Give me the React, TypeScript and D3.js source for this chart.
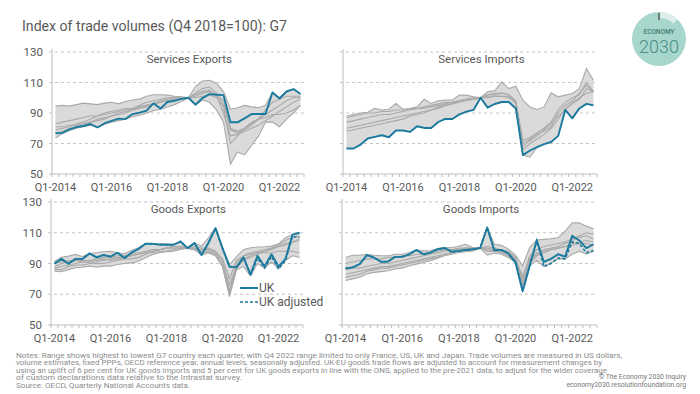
import React from "react";
import * as d3 from "d3";

// quarters Q1-2014 .. Q4-2022
const years = [2014, 2015, 2016, 2017, 2018, 2019, 2020, 2021, 2022];
const quarters = years.flatMap((y) => ["Q1", "Q2", "Q3", "Q4"].map((q) => `${q}-${y}`));
const tickQuarters = ["Q1-2014", "Q1-2016", "Q1-2018", "Q1-2020", "Q1-2022"];
const yTicks = [50, 70, 90, 110, 130];

// Services exports
const servExpUK = [76.7, 77.0, 79.3, 80.8, 81.5, 82.8, 80.5, 83.3, 84.8, 86.3, 86.0, 89.3, 90.2, 91.5, 96.3, 93.0, 97.2, 98.0, 99.3, 100, 95.4, 99.8, 102.4, 102.0, 101.7, 83.9, 83.9, 86.5, 89.3, 89.3, 89.3, 103.5, 99.5, 104.1, 105.7, 102.4];
const servExpHigh = [94.5, 95, 94.5, 95.5, 96.5, 96, 95.5, 96.5, 97, 96, 97.5, 98.5, 99.1, 101, 102, 102, 101.7, 101, 100.6, 100, 107.5, 111, 111.5, 109.5, 104, 92.5, 93.5, 95, 94, 93.5, 95, 103.5, 100, 104.1, 105.7, 102.4];
const servExpLow = [73.5, 76.5, 78.5, 80, 81, 82, 80.5, 82.5, 84, 85, 86, 87.5, 88.5, 90, 91.5, 92.5, 94, 95.5, 97.5, 100, 95.4, 98.5, 97, 92, 84, 56.5, 64.5, 62.5, 68.5, 75, 84, 84, 81, 86, 90, 95];
const servExpA = [83, 84, 85, 86, 87, 88, 88, 89, 90, 91, 92, 93, 95, 97, 98, 99, 100, 100, 100, 100, 103, 106, 107, 103, 95, 79, 77, 79, 82, 86, 92, 97, 99, 101, 101, 101];
const servExpB = [81, 81, 82, 82, 83, 84, 86, 87, 88, 89, 90, 92, 94, 95, 96, 97, 98, 99, 99, 100, 101, 103, 104, 102, 98, 80, 78, 80, 83, 86, 89, 92, 95, 98, 100, 100];
const servExpC = [79, 80, 81, 83, 84, 86, 88, 90, 91, 92, 93, 93, 94, 95, 96, 97, 98, 99, 100, 100, 100, 101, 102, 100, 94, 70, 75, 80, 84, 86, 87, 89, 89, 90, 92, 95];
const servExpD = [77, 78, 80, 81, 82, 84, 85, 86, 88, 90, 91, 92, 93, 94, 96, 98, 99, 100, 100, 100, 102, 104, 105, 101, 90, 75, 76, 78, 80, 82, 85, 88, 91, 94, 97, 99];

// Services imports
const servImpUK = [66.7, 66.7, 69.3, 73.3, 74.3, 75.4, 74.1, 78.5, 78.5, 77.6, 81.3, 80.2, 80.2, 84.1, 86.1, 86.1, 89.1, 90.9, 92.0, 100, 93.5, 95.9, 97.2, 97.2, 93, 62.4, 65.4, 67.6, 69.6, 71, 75, 92, 86.5, 93, 96, 95];
const servImpHigh = [88, 89, 90, 90.5, 93, 92, 92.5, 96.3, 92.5, 93, 94, 99, 96.3, 98, 98.5, 98.5, 101.7, 101.7, 100.6, 100, 104, 104.5, 110.4, 106, 107.6, 98.4, 94, 92.3, 94, 103.2, 100.6, 101.7, 102.8, 106, 119.2, 111.5];
const servImpLow = [66.7, 66.7, 69.3, 73.3, 74.3, 75.4, 74.1, 78.5, 78.5, 77.6, 81.3, 80.2, 80.2, 84.1, 86.1, 86.1, 89.1, 90.9, 92.0, 100, 93.5, 95.9, 97.2, 97.2, 93, 62.4, 61, 67.6, 69.6, 71, 75, 92, 86.5, 93, 96, 95];
const servImpA = [87, 88, 89, 90, 90, 91, 91, 92, 92, 93, 93, 94, 95, 96, 97, 97, 98, 99, 99, 100, 102, 102, 103, 102, 97, 72, 74, 77, 80, 84, 92, 97, 100, 102, 110, 104];
const servImpB = [84, 85, 86, 87, 88, 89, 89, 90, 91, 92, 93, 93, 94, 95, 96, 97, 98, 99, 99, 100, 101, 101, 101, 101, 96, 66, 70, 73, 76, 80, 86, 93, 97, 100, 103, 104];
const servImpC = [80, 81, 82, 83, 84, 85, 86, 87, 88, 89, 90, 91, 92, 94, 95, 96, 97, 98, 99, 100, 100, 101, 101, 100, 97, 68, 72, 75, 79, 83, 88, 92, 96, 99, 106, 104];
const servImpD = [78, 79, 80, 81, 82, 83, 84, 85, 86, 88, 89, 90, 92, 93, 95, 96, 98, 99, 100, 100, 102, 103, 103, 102, 98, 70, 73, 76, 78, 81, 90, 95, 98, 103, 108, 104];

// Goods exports
const goodsExpUK = [90, 93, 89.8, 93, 93, 96.5, 94, 95.5, 94.5, 97, 93.5, 97, 99.5, 102.8, 102.8, 102.3, 102.2, 102.2, 104.3, 100, 103.3, 95.5, 103.5, 113, 100, 88, 87.5, 94, 83, 95, 88, 96, 88, 93, 108.8, 110];
const goodsExpAdj = [90, 93, 89.8, 93, 93, 96.5, 94, 95.5, 94.5, 97, 93.5, 97, 99.5, 102.8, 102.8, 102.3, 102.2, 102.2, 104.3, 100, 103.3, 95.5, 103.5, 113, 100, 88, 87.5, 94, 82, 93.5, 87, 94.5, 86.5, 92, 107.5, 107];
const goodsExpHigh = [91.5, 94, 94.8, 95.9, 94.5, 96.5, 97, 97.6, 98, 97, 96.3, 98.5, 100.2, 102.8, 102.8, 102.8, 102.8, 102.4, 104.3, 100, 103.3, 101.3, 106.7, 113, 100, 89.3, 94.5, 99, 100.2, 100.7, 100.9, 101.3, 102.8, 106.7, 108.8, 110];
const goodsExpLow = [85, 84.6, 86, 87.2, 87.6, 88.3, 87.6, 88.3, 88.3, 89.3, 90, 90.4, 91.5, 93.7, 95.9, 97, 97.6, 98, 99.1, 100, 99, 95.5, 97, 95, 88, 68.5, 86, 88, 82, 90, 87, 91, 86.5, 92, 95, 94];
const goodsExpA = [88, 90, 91, 92, 92, 92, 93, 94, 94, 95, 95, 96, 97, 98, 99, 99, 100, 101, 101, 100, 100, 99, 99, 97, 92, 72, 90, 95, 97, 98, 99, 100, 101, 103, 104, 106];
const goodsExpB = [87, 88, 89, 90, 91, 91, 91, 92, 93, 94, 94, 95, 96, 97, 98, 99, 100, 100, 100, 100, 99, 98, 98, 96, 90, 76, 88, 93, 95, 97, 98, 99, 101, 102, 104, 105];
const goodsExpC = [86, 86, 88, 89, 89, 90, 90, 90, 91, 92, 93, 93, 94, 96, 98, 99, 100, 101, 101, 100, 101, 100, 100, 98, 93, 80, 92, 95, 96, 97, 97, 97, 98, 98, 98, 97];
const goodsExpD = [90, 91, 92, 92, 91, 91, 92, 93, 92, 93, 94, 95, 96, 97, 97, 98, 98, 99, 100, 100, 99, 98, 97, 95, 88, 70, 87, 92, 94, 96, 98, 100, 102, 105, 107, 108];

// Goods imports
const goodsImpUK = [86.8, 87.5, 89.6, 95.4, 93.9, 91.1, 91.3, 94.3, 94.3, 96, 98.8, 96, 97.1, 99.3, 100.1, 97.6, 98.2, 98.8, 99.3, 100, 113.4, 98.6, 98.8, 96.5, 90.7, 72, 88.5, 105, 91, 93, 96, 94.5, 108, 105, 100, 102.5];
const goodsImpAdj = [86.8, 87.5, 89.6, 95.4, 93.9, 91.1, 91.3, 94.3, 94.3, 96, 98.8, 96, 97.1, 99.3, 100.1, 97.6, 98.2, 98.8, 99.3, 100, 113.4, 98.6, 98.8, 96.5, 90.7, 72, 88.5, 105, 88, 90, 93.5, 93, 104, 103, 97, 98.5];
const goodsImpHigh = [93.9, 95.4, 95.4, 96, 95.4, 95, 95, 96, 96, 97.1, 98.8, 98.2, 98.2, 99.7, 100.3, 100.3, 101.4, 102.5, 100.3, 100, 113.4, 102.5, 101.8, 99.3, 95.4, 88.5, 100.3, 105.3, 105.7, 106.1, 106.8, 111, 116.4, 116.4, 114.3, 112.6];
const goodsImpLow = [78.9, 80, 81, 83.2, 84.2, 84.7, 85.3, 86.4, 87, 88.5, 89.6, 90.7, 91.8, 93.5, 95, 96, 97.1, 97.6, 98.2, 100, 95.4, 96.7, 96, 93.9, 90.7, 72, 88.5, 92, 88, 90, 93, 93, 96, 98, 96, 98];
const goodsImpA = [90, 91, 92, 93, 93, 93, 94, 94, 95, 95, 96, 96, 97, 98, 99, 99, 100, 100, 100, 100, 101, 100, 99, 98, 94, 80, 95, 99, 101, 102, 103, 104, 106, 108, 110, 109];
const goodsImpB = [86, 87, 87, 88, 89, 90, 90, 91, 92, 93, 94, 95, 96, 97, 98, 99, 99, 100, 100, 100, 100, 99, 99, 97, 93, 78, 92, 96, 98, 99, 100, 101, 103, 104, 105, 104];
const goodsImpC = [83, 84, 85, 86, 87, 88, 88, 89, 90, 91, 92, 93, 94, 95, 96, 97, 98, 99, 100, 100, 99, 98, 98, 96, 92, 82, 93, 97, 99, 100, 101, 103, 105, 107, 108, 106];
const goodsImpD = [81, 82, 83, 85, 86, 87, 87, 88, 89, 90, 91, 92, 93, 94, 96, 97, 98, 99, 99, 100, 98, 98, 97, 95, 91, 76, 90, 95, 97, 99, 100, 101, 102, 103, 103, 102];

const notes = [
  "Notes: Range shows highest to lowest G7 country each quarter, with Q4 2022 range limited to only France, US, UK and Japan. Trade volumes are measured in US dollars,",
  "volume estimates, fixed PPPs, OECD reference year, annual levels, seasonally adjusted. UK-EU goods trade flows are adjusted to account for measurement changes by",
  "using an uplift of 6 per cent for UK goods imports and 5 per cent for UK goods exports in line with the ONS, applied to the pre-2021 data, to adjust for the wider coverage",
  "of custom declarations data relative to the Intrastat survey.",
  "Source: OECD, Quarterly National Accounts data.",
];
const noteWidths = [606, 586, 591, 226, 174];

const BLUE = "#1a7b9e";
const GRAY_LINE = "#a9a9a9";
const FILL = "#dadada";
const TEXT = "#595959";
const FONT = "Roboto, 'Noto Sans', sans-serif";

type PanelProps = {
  title: string;
  uk: number[];
  adj?: number[];
  high: number[];
  low: number[];
  others: number[][];
  x0: number;
  x1: number;
  yTop: number;
  yBot: number;
  showY: boolean;
  legend?: boolean;
};

const Panel = (p: PanelProps) => {
  const x = d3.scaleBand<string>().domain(quarters).range([p.x0, p.x1]);
  const y = d3.scaleLinear().domain([50, 130]).range([p.yBot, p.yTop]);
  const cx = (i: number) => (x(quarters[i]) as number) + x.bandwidth() / 2;
  const line = d3.line<number>().x((_, i) => cx(i)).y((d) => y(d));
  const area = d3
    .area<number>()
    .x((_, i) => cx(i))
    .y0((_, i) => y(p.low[i]))
    .y1((d) => y(d));
  const boundaries = [...quarters.map((q) => x(q) as number), p.x1];

  return (
    <g>
      {yTicks.slice(1).map((t) => (
        <line key={t} x1={p.x0 - 3} x2={p.x1} y1={y(t)} y2={y(t)} stroke="#bdbdbd" strokeDasharray="3,3" strokeWidth={0.9} />
      ))}
      <line x1={p.x0} x2={p.x0} y1={p.yTop - 3} y2={p.yBot} stroke="#bdbdbd" />
      <line x1={p.x0 - 3} x2={p.x1} y1={p.yBot} y2={p.yBot} stroke="#bdbdbd" />
      {boundaries.map((b, i) => (
        <line key={i} x1={b} x2={b} y1={p.yBot} y2={p.yBot + 3} stroke="#bdbdbd" />
      ))}
      {p.showY &&
        yTicks.map((t) => (
          <text key={t} x={p.x0 - 9} y={y(t)} dy="0.35em" textAnchor="end" fontSize={11.5} fill={TEXT} fontFamily={FONT}>
            {t}
          </text>
        ))}
      {tickQuarters.map((q) => (
        <text key={q} x={cx(quarters.indexOf(q))} y={p.yBot + 17} textAnchor="middle" fontSize={11} fill={TEXT} fontFamily={FONT}>
          {q}
        </text>
      ))}
      <text x={p.x0 + 0.545 * (p.x1 - p.x0)} y={p.yTop + 10.5} textAnchor="middle" fontSize={11.5} fill={TEXT} fontFamily={FONT}>
        {p.title}
      </text>
      <path d={area(p.high) || ""} fill={FILL} />
      {p.others.map((o, k) => (
        <path key={k} d={line(o) || ""} fill="none" stroke={GRAY_LINE} strokeWidth={1.1} />
      ))}
      <path d={line(p.high) || ""} fill="none" stroke={GRAY_LINE} strokeWidth={1.1} />
      <path d={line(p.low) || ""} fill="none" stroke={GRAY_LINE} strokeWidth={1.1} />
      {p.adj && <path d={line(p.adj) || ""} fill="none" stroke={BLUE} strokeWidth={1.6} strokeDasharray="3,2" />}
      <path d={line(p.uk) || ""} fill="none" stroke={BLUE} strokeWidth={1.9} strokeLinejoin="round" />
      {p.legend && (
        <g fontFamily={FONT} fontSize={12} fill={TEXT}>
          <line x1={240} x2={258} y1={288} y2={288} stroke={BLUE} strokeWidth={2} />
          <text x={259} y={292}>UK</text>
          <line x1={240} x2={258} y1={302} y2={302} stroke={BLUE} strokeWidth={1.6} strokeDasharray="3,2" />
          <text x={259} y={306}>UK adjusted</text>
        </g>
      )}
    </g>
  );
};

const Logo = () => {
  const cx = 659;
  const cy = 39;
  const r = 27;
  const arc = d3.arc()({ innerRadius: r - 6, outerRadius: r, startAngle: 0.05, endAngle: 0.75 }) || "";
  return (
    <g>
      <circle cx={cx} cy={cy} r={r} fill="#a6d6cc" />
      <path d={arc} transform={`translate(${cx},${cy})`} fill="#dcefeb" />
      <line x1={cx} x2={cx} y1={cy - r + 1} y2={cy - r + 8} stroke="#555" strokeWidth={1.4} />
      <text x={cx} y={34} textAnchor="middle" fontSize={6.5} fill="#3f7d73" fontFamily={FONT} fontWeight={500}>
        ECONOMY
      </text>
      <text x={cx} y={53} textAnchor="middle" fontSize={18} fill="#4a8d83" fontFamily={FONT} fontWeight={300}>
        2030
      </text>
    </g>
  );
};

export default function App() {
  return (
    <svg width={700} height={394} style={{ position: "absolute", left: 0, top: 0, background: "#fff" }}>
      <text x={22} y={31} fontSize={14.5} fill={TEXT} fontFamily={FONT} textLength={265} lengthAdjust="spacingAndGlyphs">
        Index of trade volumes (Q4 2018=100): G7
      </text>
      <Logo />
      <Panel title="Services Exports" uk={servExpUK} high={servExpHigh} low={servExpLow} others={[servExpA, servExpB, servExpC, servExpD]} x0={52} x1={304} yTop={52} yBot={174} showY />
      <Panel title="Services Imports" uk={servImpUK} high={servImpHigh} low={servImpLow} others={[servImpA, servImpB, servImpC, servImpD]} x0={343} x1={597} yTop={52} yBot={174} showY={false} />
      <Panel title="Goods Exports" uk={goodsExpUK} adj={goodsExpAdj} high={goodsExpHigh} low={goodsExpLow} others={[goodsExpA, goodsExpB, goodsExpC, goodsExpD]} x0={51} x1={303} yTop={202} yBot={325} showY legend />
      <Panel title="Goods Imports" uk={goodsImpUK} adj={goodsImpAdj} high={goodsImpHigh} low={goodsImpLow} others={[goodsImpA, goodsImpB, goodsImpC, goodsImpD]} x0={342} x1={597} yTop={202} yBot={325} showY={false} />
      {notes.map((n, i) => (
        <text key={i} x={16} y={357.5 + i * 7.5} fontSize={6.6} fill="#8c8c8c" fontFamily={FONT} textLength={noteWidths[i]} lengthAdjust="spacingAndGlyphs">
          {n}
        </text>
      ))}
      <text x={686} y={378.5} textAnchor="end" fontSize={6.8} fill="#777" fontFamily={FONT}>
        © The Economy 2030 Inquiry
      </text>
      <text x={686} y={387} textAnchor="end" fontSize={6.8} fill="#777" fontFamily={FONT}>
        economy2030.resolutionfoundation.org
      </text>
    </svg>
  );
}
